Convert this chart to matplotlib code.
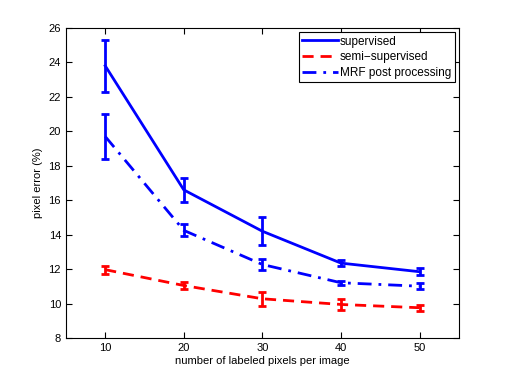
import matplotlib
matplotlib.use("Agg")
import matplotlib.pyplot as plt
from matplotlib.lines import Line2D

plt.rcParams['font.family'] = ['Liberation Sans', 'DejaVu Sans']

x = [10, 20, 30, 40, 50]
supervised = [23.8, 16.6, 14.2, 12.35, 11.85]
supervised_err = [1.5, 0.68, 0.8, 0.17, 0.2]
semi = [11.97, 11.05, 10.28, 9.95, 9.76]
semi_err = [0.23, 0.2, 0.4, 0.3, 0.18]
mrf = [19.7, 14.25, 12.27, 11.21, 11.01]
mrf_err = [1.28, 0.35, 0.3, 0.13, 0.17]

labels = ['supervised', 'semi\u2212supervised', 'MRF post processing']
styles = ['-', (0, (4, 2.5)), (0, (5, 2.5, 1, 2.5))]
colors = ['#0000ff', '#ff0000', '#0000ff']

fig = plt.figure(figsize=(5.07, 3.82), dpi=100)
ax = fig.add_axes([0.13, 0.115, 0.775, 0.812])

for ys, es, c, s in zip([supervised, semi, mrf], [supervised_err, semi_err, mrf_err], colors, styles):
    ax.errorbar(x, ys, yerr=es, color=c, lw=2, ls=s,
                capsize=3, capthick=2, elinewidth=2)

ax.set_xlim(5, 55)
ax.set_ylim(8, 26)
ax.set_xticks(x)
ax.set_yticks(range(8, 27, 2))
ax.tick_params(direction='in', top=True, right=True, labelsize=8, length=4)
ax.set_xlabel('number of labeled pixels per image', fontsize=8, labelpad=2)
ax.set_ylabel('pixel error (%)', fontsize=8)

handles = [Line2D([], [], color=c, lw=2, ls=s) for c, s in zip(colors, styles)]
leg = ax.legend(handles, labels, loc='upper right', fontsize=8.5, fancybox=False, framealpha=1,
                edgecolor='black', handlelength=3.0, handletextpad=0.2,
                borderpad=0.3, labelspacing=0.3, borderaxespad=0.35)
leg.get_frame().set_linewidth(0.8)

fig.savefig('out.png', dpi=100)
